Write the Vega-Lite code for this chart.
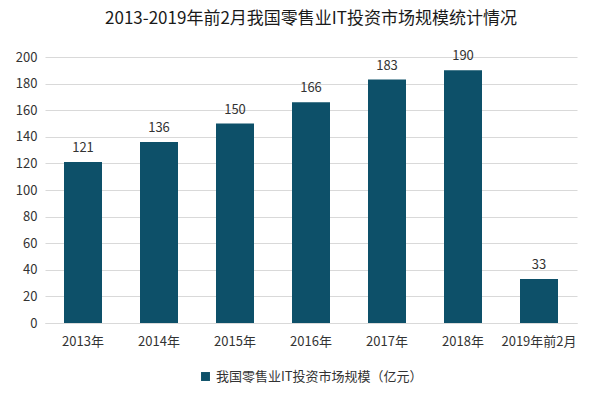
{
  "$schema": "https://vega.github.io/schema/vega-lite/v6.json",
  "width": 532,
  "height": 266,
  "autosize": {"type": "none"},
  "padding": {"left": 45, "top": 57, "right": 23, "bottom": 71},
  "background": "white",
  "title": {
    "text": "2013-2019年前2月我国零售业IT投资市场规模统计情况",
    "font": "Noto Sans CJK SC",
    "fontSize": 17,
    "fontWeight": "normal",
    "color": "#1a1a1a",
    "anchor": "middle",
    "offset": 22
  },
  "data": {
    "values": [
      {"year": "2013年", "value": 121, "series": "我国零售业IT投资市场规模（亿元）"},
      {"year": "2014年", "value": 136, "series": "我国零售业IT投资市场规模（亿元）"},
      {"year": "2015年", "value": 150, "series": "我国零售业IT投资市场规模（亿元）"},
      {"year": "2016年", "value": 166, "series": "我国零售业IT投资市场规模（亿元）"},
      {"year": "2017年", "value": 183, "series": "我国零售业IT投资市场规模（亿元）"},
      {"year": "2018年", "value": 190, "series": "我国零售业IT投资市场规模（亿元）"},
      {"year": "2019年前2月", "value": 33, "series": "我国零售业IT投资市场规模（亿元）"}
    ]
  },
  "encoding": {
    "x": {
      "field": "year",
      "type": "nominal",
      "sort": null,
      "scale": {"paddingInner": 0.5, "paddingOuter": 0.25},
      "axis": {
        "title": null,
        "labelAngle": 0,
        "labelFont": "Noto Sans CJK SC",
        "labelFontSize": 13,
        "labelColor": "#333333",
        "labelPadding": 12,
        "ticks": false,
        "domainColor": "#d9d9d9"
      }
    },
    "y": {
      "field": "value",
      "type": "quantitative",
      "scale": {"domain": [0, 200]},
      "axis": {
        "title": null,
        "values": [0, 20, 40, 60, 80, 100, 120, 140, 160, 180, 200],
        "labelFont": "Noto Sans CJK SC",
        "labelFontSize": 13,
        "labelColor": "#333333",
        "labelPadding": 8,
        "ticks": false,
        "domain": false,
        "gridColor": "#d9d9d9"
      }
    }
  },
  "layer": [
    {
      "mark": {"type": "bar", "color": "#0d5069"},
      "encoding": {
        "color": {
          "field": "series",
          "type": "nominal",
          "scale": {"range": ["#0d5069"]},
          "legend": {
            "title": null,
            "orient": "bottom",
            "direction": "horizontal",
            "symbolType": "square",
            "symbolSize": 80,
            "labelFont": "Noto Sans CJK SC",
            "labelFontSize": 13,
            "labelColor": "#333333",
            "labelLimit": 400,
            "offset": 22
          }
        }
      }
    },
    {
      "mark": {"type": "text", "dy": -14, "font": "Noto Sans CJK SC", "fontSize": 13, "color": "#333333"},
      "encoding": {"text": {"field": "value", "type": "quantitative"}}
    }
  ],
  "config": {
    "view": {"stroke": null},
    "legend": {"layout": {"bottom": {"anchor": "middle"}}}
  }
}
